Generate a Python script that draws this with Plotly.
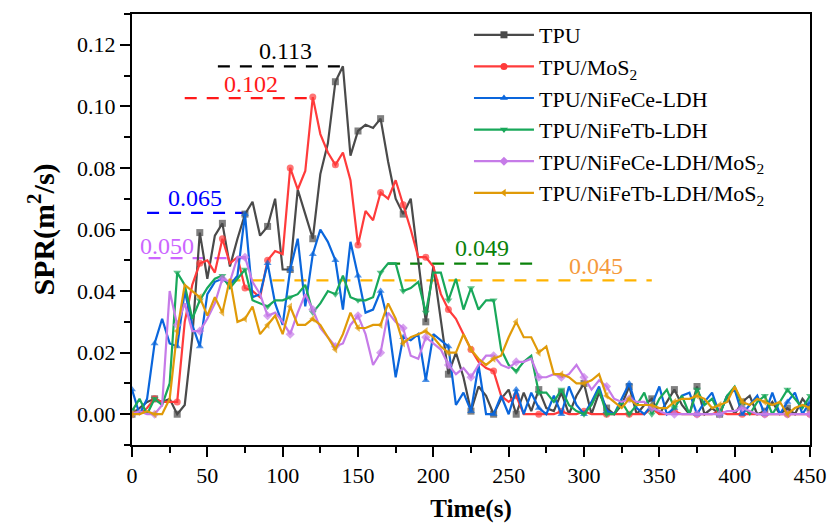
import plotly.graph_objects as go

# ---------------- data (t = 0 ... 450 s, every 5 s) ----------------
time_s = list(range(0, 451, 5))

series_names = ["TPU", "TPU/MoS<sub>2</sub>", "TPU/NiFeCe-LDH", "TPU/NiFeTb-LDH",
                "TPU/NiFeCe-LDH/MoS<sub>2</sub>", "TPU/NiFeTb-LDH/MoS<sub>2</sub>"]

tpu = [0.000, 0.002, 0.004, 0.005, 0.004, 0.005, 0.000, 0.003, 0.025, 0.059,
       0.044, 0.058, 0.062, 0.048, 0.057, 0.065, 0.069, 0.058, 0.061, 0.070,
       0.047, 0.047, 0.073, 0.065, 0.057, 0.078, 0.088, 0.108, 0.113, 0.084,
       0.092, 0.094, 0.093, 0.096, 0.082, 0.070, 0.065, 0.070, 0.050, 0.030,
       0.048, 0.030, 0.013, 0.020, 0.012, 0.001, 0.009, 0.006, 0.000, 0.005,
       0.008, 0.000, 0.007, 0.001, 0.008, 0.002, 0.001, 0.007, 0.000, 0.006,
       0.010, 0.000, 0.007, 0.002, 0.000, 0.003, 0.009, 0.000, 0.003, 0.005,
       0.000, 0.004, 0.008, 0.003, 0.000, 0.009, 0.000, 0.002, 0.000, 0.006,
       0.000, 0.004, 0.006, 0.000, 0.001, 0.004, 0.000, 0.002, 0.000, 0.005,
       0.002]

tpu_mos2 = [0.001, 0.000, 0.002, 0.005, 0.004, 0.004, 0.004, 0.030, 0.042, 0.049,
            0.050, 0.046, 0.057, 0.049, 0.051, 0.041, 0.040, 0.038, 0.050, 0.053,
            0.052, 0.080, 0.073, 0.079, 0.103, 0.091, 0.085, 0.081, 0.085, 0.076,
            0.055, 0.066, 0.063, 0.072, 0.070, 0.076, 0.068, 0.060, 0.051, 0.051,
            0.048, 0.039, 0.034, 0.031, 0.026, 0.021, 0.017, 0.015, 0.014, 0.006,
            0.004, 0.006, 0.000, 0.000, 0.000, 0.000, 0.000, 0.001, 0.000, 0.000,
            0.001, 0.000, 0.000, 0.000, 0.000, 0.000, 0.000, 0.000, 0.000, 0.002,
            0.000, 0.000, 0.001, 0.000, 0.000, 0.000, 0.000, 0.000, 0.001, 0.000,
            0.000, 0.000, 0.000, 0.000, 0.000, 0.000, 0.000, 0.000, 0.000, 0.000,
            0.000]

tpu_nifece = [0.008, 0.000, 0.005, 0.023, 0.031, 0.023, 0.022, 0.040, 0.029, 0.022,
              0.039, 0.043, 0.044, 0.042, 0.045, 0.065, 0.038, 0.039, 0.049, 0.036,
              0.029, 0.047, 0.057, 0.035, 0.052, 0.060, 0.056, 0.050, 0.034, 0.056,
              0.045, 0.033, 0.034, 0.040, 0.030, 0.012, 0.025, 0.024, 0.026, 0.011,
              0.026, 0.024, 0.022, 0.003, 0.007, 0.001, 0.016, 0.000, 0.000, 0.006,
              0.000, 0.008, 0.000, 0.007, 0.002, 0.000, 0.006, 0.000, 0.009, 0.003,
              0.000, 0.004, 0.009, 0.001, 0.000, 0.005, 0.010, 0.002, 0.000, 0.003,
              0.009, 0.000, 0.002, 0.006, 0.007, 0.000, 0.004, 0.007, 0.000, 0.006,
              0.008, 0.000, 0.003, 0.006, 0.000, 0.007, 0.000, 0.004, 0.007, 0.000,
              0.004]

tpu_nifetb = [0.001, 0.005, 0.000, 0.005, 0.003, 0.010, 0.046, 0.042, 0.031, 0.037,
              0.041, 0.044, 0.045, 0.041, 0.044, 0.047, 0.037, 0.036, 0.035, 0.037,
              0.037, 0.038, 0.039, 0.042, 0.033, 0.036, 0.040, 0.039, 0.045, 0.038,
              0.037, 0.037, 0.038, 0.046, 0.049, 0.049, 0.040, 0.041, 0.043, 0.033,
              0.046, 0.046, 0.037, 0.044, 0.034, 0.041, 0.034, 0.037, 0.037, 0.021,
              0.016, 0.014, 0.017, 0.019, 0.007, 0.007, 0.004, 0.008, 0.003, 0.001,
              0.000, 0.003, 0.008, 0.000, 0.000, 0.004, 0.000, 0.003, 0.007, 0.000,
              0.005, 0.008, 0.002, 0.006, 0.000, 0.008, 0.003, 0.005, 0.000, 0.006,
              0.009, 0.003, 0.000, 0.004, 0.006, 0.000, 0.004, 0.008, 0.005, 0.002,
              0.006]

tpu_nifece_mos2 = [0.000, 0.001, 0.000, 0.000, 0.003, 0.040, 0.029, 0.036, 0.027, 0.027,
                   0.031, 0.036, 0.044, 0.043, 0.051, 0.051, 0.043, 0.039, 0.032, 0.033,
                   0.030, 0.026, 0.033, 0.039, 0.034, 0.028, 0.025, 0.022, 0.023, 0.029,
                   0.032, 0.026, 0.016, 0.020, 0.033, 0.030, 0.028, 0.019, 0.018, 0.025,
                   0.023, 0.021, 0.016, 0.013, 0.015, 0.012, 0.016, 0.019, 0.019, 0.016,
                   0.015, 0.017, 0.017, 0.018, 0.012, 0.012, 0.013, 0.012, 0.013, 0.016,
                   0.012, 0.008, 0.011, 0.009, 0.005, 0.004, 0.005, 0.004, 0.004, 0.002,
                   0.001, 0.000, 0.000, 0.000, 0.000, 0.000, 0.000, 0.000, 0.000, 0.001,
                   0.001, 0.002, 0.001, 0.000, 0.000, 0.000, 0.000, 0.000, 0.000, 0.000,
                   0.000]

tpu_nifetb_mos2 = [0.000, 0.000, 0.001, 0.000, 0.000, 0.005, 0.027, 0.042, 0.040, 0.038,
                   0.032, 0.038, 0.033, 0.044, 0.030, 0.031, 0.035, 0.026, 0.029, 0.032,
                   0.026, 0.035, 0.029, 0.029, 0.031, 0.029, 0.025, 0.021, 0.026, 0.033,
                   0.028, 0.028, 0.029, 0.029, 0.036, 0.031, 0.023, 0.025, 0.026, 0.027,
                   0.025, 0.022, 0.020, 0.020, 0.026, 0.021, 0.018, 0.016, 0.018, 0.019,
                   0.025, 0.030, 0.025, 0.025, 0.020, 0.022, 0.013, 0.013, 0.012, 0.010,
                   0.010, 0.011, 0.013, 0.006, 0.004, 0.002, 0.005, 0.003, 0.003, 0.003,
                   0.002, 0.002, 0.004, 0.005, 0.005, 0.006, 0.005, 0.002, 0.003, 0.004,
                   0.009, 0.004, 0.003, 0.005, 0.004, 0.003, 0.004, 0.000, 0.002, 0.003,
                   0.002]

# peak reference lines (value, start time, end time) and their label positions
peak_values = [0.113, 0.102, 0.065, 0.050, 0.049, 0.045]
peak_labels = ["0.113", "0.102", "0.065", "0.050", "0.049", "0.045"]
peak_line_y = [0.113, 0.1027, 0.0654, 0.0507, 0.0489, 0.0435]
peak_x0 = [57, 35, 10, 11, 170, 64]
peak_x1 = [140, 120, 74, 75, 267, 345]
label_x = [102, 79, 42, 23, 232, 308]
label_y = [0.1179, 0.1074, 0.0703, 0.0546, 0.0539, 0.0481]

# ---------------- styles ----------------
colors = ["#4a4a4a", "#ff3b3b", "#0a66dc", "#19a85a", "#c67be8", "#e09a08"]
symbols = ["square", "circle", "triangle-up", "triangle-down", "diamond", "triangle-left"]
peak_colors = ["#000000", "#ff1a1a", "#0000ff", "#cc66ff", "#0a820a", "#ffb300"]
label_colors = ["#000000", "#ff1a1a", "#0000ff", "#cc66ff", "#0a820a", "#f59a3c"]
FONT = "Liberation Serif"

all_series = [tpu, tpu_mos2, tpu_nifece, tpu_nifetb, tpu_nifece_mos2, tpu_nifetb_mos2]

fig = go.Figure()

# reference dashed lines first (drawn under data)
for i in range(len(peak_values)):
    fig.add_trace(go.Scatter(
        x=[peak_x0[i], peak_x1[i]], y=[peak_line_y[i], peak_line_y[i]],
        mode="lines", line=dict(color=peak_colors[i], width=2.2, dash="12px,10px"),
        showlegend=False, hoverinfo="skip"))

msize = [7 if t % 15 == 0 else 0 for t in time_s]
for name, ys, c, s in zip(series_names, all_series, colors, symbols):
    fig.add_trace(go.Scatter(
        x=time_s, y=ys, mode="lines+markers", name=name,
        line=dict(color=c, width=2.2),
        marker=dict(symbol=s, size=msize, color=c, line=dict(width=0)),
        showlegend=False))

# legend entries
for name, c, s in zip(series_names, colors, symbols):
    fig.add_trace(go.Scatter(
        x=[None], y=[None], mode="lines+markers", name=name,
        line=dict(color=c, width=2.2),
        marker=dict(symbol=s, size=7, color=c)))

for i in range(len(peak_values)):
    fig.add_annotation(x=label_x[i], y=label_y[i], text=peak_labels[i],
                       showarrow=False, xref="x", yref="y",
                       font=dict(family=FONT, size=24, color=label_colors[i]))

axis_common = dict(showline=True, linecolor="black", linewidth=2, mirror=True,
                   ticks="outside", tickwidth=2, ticklen=10, tickcolor="black",
                   showgrid=False, zeroline=False,
                   tickfont=dict(family=FONT, size=22, color="black"))

fig.update_xaxes(range=[0, 450], dtick=50, tick0=0,
                 minor=dict(dtick=25, ticks="outside", ticklen=6, tickwidth=2, tickcolor="black"),
                 title=dict(text="<b>Time(s)</b>", font=dict(family=FONT, size=25, color="black"),
                            standoff=12),
                 **axis_common)
fig.update_yaxes(range=[-0.01, 0.13], dtick=0.02, tick0=0, tickformat=".2f",
                 minor=dict(dtick=0.01, ticks="outside", ticklen=6, tickwidth=2, tickcolor="black"),
                 title=dict(text="<b>SPR(m<sup>2</sup>/s)</b>", font=dict(family=FONT, size=30, color="black"),
                            standoff=14),
                 **axis_common)

fig.update_layout(
    width=839, height=530,
    margin=dict(l=132, r=17, t=13, b=71),
    plot_bgcolor="white", paper_bgcolor="white",
    legend=dict(x=0.497, y=1.0, xanchor="left", yanchor="top",
                font=dict(family=FONT, size=22, color="black"),
                itemwidth=60, bgcolor="rgba(0,0,0,0)", tracegroupgap=0),
)

fig.write_html("out.html")
